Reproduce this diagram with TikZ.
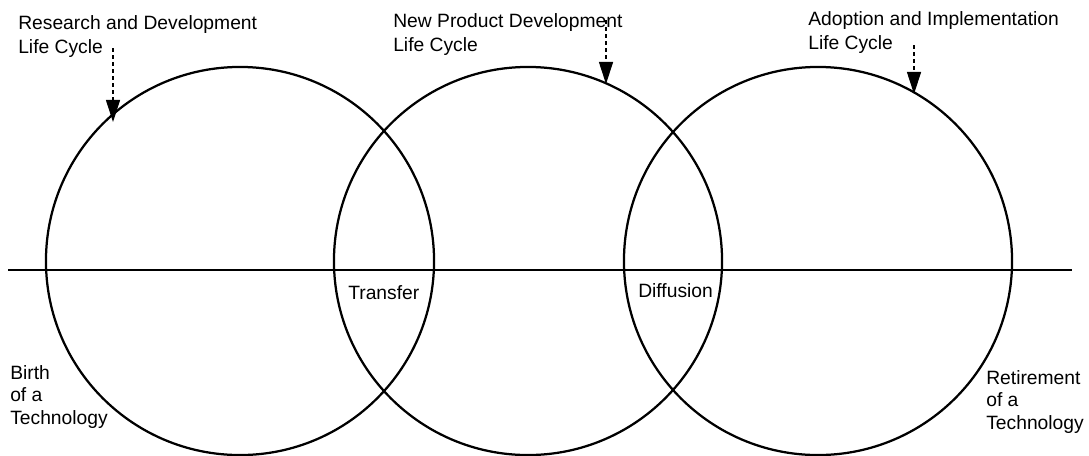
\documentclass[tikz,border=0pt]{standalone}
\usepackage{fontspec}
\setmainfont{Liberation Sans}
\usepackage{tikz}
\usetikzlibrary{arrows.meta}
\usetikzlibrary{positioning}

\begin{document}
\begin{tikzpicture}[
			x=0.025cm, y=-0.025cm,
			cycle/.style={circle, draw, line width=1.6pt, minimum size=9.7cm, inner sep=0pt},
			every node/.style={inner sep=0pt, font=\fontsize{13.7}{16}\selectfont},
			tag/.style={align=left, anchor=north west},
			pointer/.style={line width=0.8pt, dash pattern=on 3pt off 2pt, -{Triangle[length=0.55cm, width=0.35cm]}}
		]
		\useasboundingbox (0,0) rectangle (1089,455);
		% the three life cycles
		\foreach \n/\x in {rd/240, np/528, ad/818} {
				\node[cycle] (\n) at (\x,261) {};
			}
		% time line
		\coordinate (lineL) at (8,270);
		\coordinate (lineR) at (1072,270);
		\draw[line width=1.6pt] (lineL) -- (lineR);
		% labels of the cycles
		\node[tag, font=\fontsize{13.7}{17}\selectfont] (rdtext) at (18,15) {Research and Development\\Life Cycle};
		\node[tag, font=\fontsize{13.7}{17}\selectfont] (nptext) at (393,13) {New Product Development\\Life Cycle};
		\node[tag, font=\fontsize{13.7}{17}\selectfont] (adtext) at (808,11) {Adoption and Implementation\\Life Cycle};
		\foreach \n/\x/\a/\b in {rd/113/48/122, np/606/20/84, ad/914/45/94} {
				\coordinate (\n from) at (\x,\a);
				\coordinate (\n to) at (\x,\b);
				\draw[pointer] (\n from) -- (\n to);
			}
		% overlaps and ends
		\node[anchor=west] (transfer) at (348,293) {Transfer};
		\node[anchor=west] (diffusion) at (638,291) {Diffusion};
		\node[tag] (birth) at (10,365) {Birth\\of a\\Technology};
		\node[tag] (retire) at (986,370) {Retirement\\of a\\Technology};
	\end{tikzpicture}
\end{document}
